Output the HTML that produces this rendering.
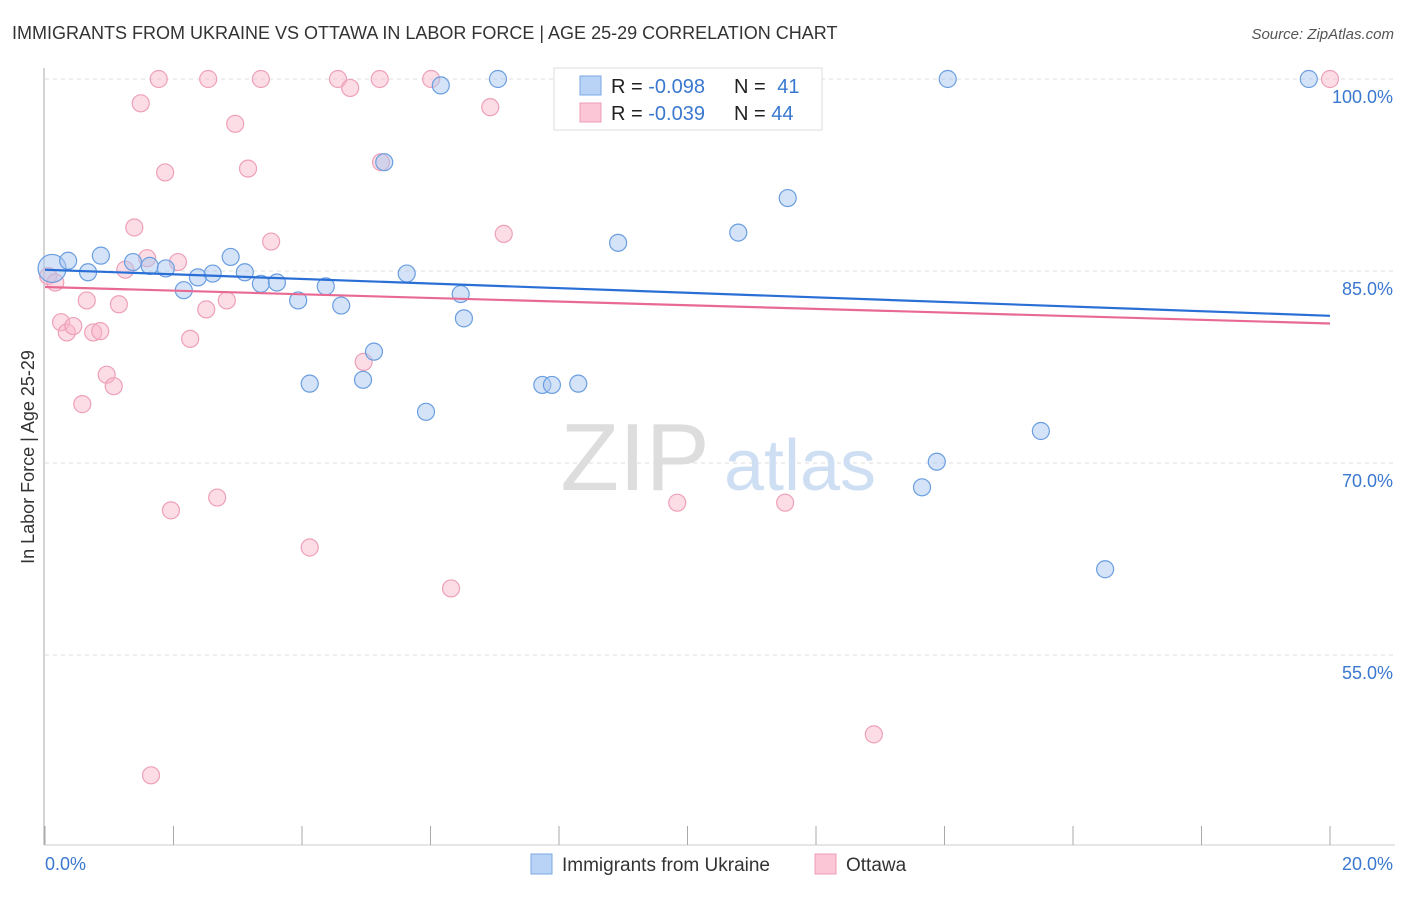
<!DOCTYPE html>
<html><head><meta charset="utf-8">
<style>
body{margin:0;background:#fff;font-family:"Liberation Sans",sans-serif;}
svg text{font-family:"Liberation Sans",sans-serif;}
</style></head>
<body>
<svg id="chart" width="1406" height="892" xmlns="http://www.w3.org/2000/svg">
<text x="12" y="39" font-size="18" fill="#333">IMMIGRANTS FROM UKRAINE VS OTTAWA IN LABOR FORCE | AGE 25-29 CORRELATION CHART</text>
<text x="1394" y="39" font-size="15" fill="#555" font-style="italic" text-anchor="end">Source: ZipAtlas.com</text>
<g id="grid"></g>
<g>
<text x="635" y="490" font-size="96" fill="#ddd" font-family="Liberation Serif" text-anchor="middle">ZIP</text>
<text x="800" y="490" font-size="72" fill="#cfdff3" text-anchor="middle">atlas</text>
</g>
<g id="axes"></g>
<g id="points"></g>
<g id="trends"></g>
<g>
<rect x="554" y="68" width="268" height="62" fill="#fff" stroke="#ddd"/>
<rect x="580" y="76" width="21" height="19" fill="#b8d3f5" stroke="#7aa9e6"/>
<rect x="580" y="103" width="21" height="19" fill="#fbc6d6" stroke="#ee9cb5"/>
<text x="611" y="93" font-size="20" fill="#222">R = <tspan fill="#3a78d0">-0.098</tspan></text>
<text x="734" y="93" font-size="20" fill="#222">N = <tspan fill="#3a78d0" dx="6">41</tspan></text>
<text x="611" y="120" font-size="20" fill="#222">R = <tspan fill="#3a78d0">-0.039</tspan></text>
<text x="734" y="120" font-size="20" fill="#222">N = <tspan fill="#3a78d0">44</tspan></text>
</g>
<g>
<rect x="531" y="854" width="21" height="20" fill="#b8d3f5" stroke="#7aa9e6"/>
<text x="562" y="871" font-size="19" fill="#333">Immigrants from Ukraine</text>
<rect x="815" y="854" width="21" height="20" fill="#fbc6d6" stroke="#ee9cb5"/>
<text x="846" y="871" font-size="19" fill="#333">Ottawa</text>
</g>
<text transform="translate(34,457) rotate(-90)" font-size="18" fill="#333" text-anchor="middle">In Labor Force | Age 25-29</text>
</svg>
<script>
const blueX=[0.11,0.36,0.67,0.87,1.37,1.63,1.88,2.16,2.38,2.61,2.89,3.11,3.36,3.61,3.94,4.12,4.37,4.61,4.95,5.12,5.28,5.63,5.93,6.16,6.47,6.52,7.05,7.74,7.89,8.30,8.92,10.94,10.79,11.56,13.65,13.88,14.05,15.50,16.50,19.67];
const blueY=[85.2,85.8,84.9,86.2,85.7,85.4,85.2,83.5,84.5,84.8,86.1,84.9,84.0,84.1,82.7,76.2,83.8,82.3,76.5,78.7,93.5,84.8,74.0,99.5,83.2,81.3,100,76.1,76.1,76.2,87.2,100,88.0,90.7,68.1,70.1,100,72.5,61.7,100];
const pinkX=[0.05,0.16,0.25,0.34,0.44,0.58,0.65,0.75,0.86,0.96,1.07,1.15,1.25,1.39,1.49,1.59,1.65,1.77,1.87,1.96,2.07,2.26,2.51,2.54,2.68,2.83,2.96,3.16,3.36,3.52,4.12,4.56,4.75,4.96,5.21,5.23,6.01,6.32,6.93,7.14,9.84,11.52,12.90,20.0];
const pinkY=[84.6,84.1,81.0,80.2,80.7,74.6,82.7,80.2,80.3,76.9,76.0,82.4,85.1,88.4,98.1,86.0,45.6,100,92.7,66.3,85.7,79.7,82.0,100,67.3,82.7,96.5,93.0,100,87.3,63.4,100,99.3,77.9,100,93.5,100,60.2,97.8,87.9,66.9,66.9,48.8,100];
const blueTrend=[85.1,81.5];
const pinkTrend=[83.75,80.9];
const yTicks=[100,85,70,55];
const yTickLabels=["100.0%","85.0%","70.0%","55.0%"];
const xTickVals=[0,2,4,6,8,10,12,14,16,18,20];
const xEndLabels=["0.0%","20.0%"];
const NS="http://www.w3.org/2000/svg";
const X=v=>45+v/20*1285;
const Y=v=>79+(100-v)*12.8;
function mk(tag,attrs,parent){const e=document.createElementNS(NS,tag);for(const k in attrs)e.setAttribute(k,attrs[k]);parent.appendChild(e);return e;}
const grid=document.getElementById('grid'),axes=document.getElementById('axes'),pts=document.getElementById('points'),tr=document.getElementById('trends');
yTicks.forEach((t,i)=>{
  const l=mk('line',{x1:45,x2:1395,y1:Y(t),y2:Y(t),stroke:'#ddd','stroke-dasharray':'4,4'},grid);
  
  
  const tx=mk('text',{x:1393,y:Y(t)+24,'font-size':18,fill:'#3a78d0','text-anchor':'end'},axes);
  tx.textContent=yTickLabels[i];
  
  
});
mk('line',{x1:44,x2:44,y1:68,y2:845,stroke:'#aaa'},axes);
mk('line',{x1:44,x2:1395,y1:845,y2:845,stroke:'#ccc'},axes);
xTickVals.forEach(v=>{
  const t=mk('line',{x1:X(v),x2:X(v),y1:826,y2:845,stroke:'#aaa'},axes);
  
  
});
const xl0=mk('text',{x:45,y:870,'font-size':18,fill:'#3a78d0'},axes);xl0.textContent=xEndLabels[0];


const xl1=mk('text',{x:1393,y:870,'font-size':18,fill:'#3a78d0','text-anchor':'end'},axes);xl1.textContent=xEndLabels[1];


pinkX.forEach((x,i)=>{
  const c=mk('circle',{cx:X(x),cy:Y(pinkY[i]),r:8.5,fill:'rgba(248,180,200,0.45)',stroke:'#eea0b8','stroke-width':1.2},pts);
  
  
});
blueX.forEach((x,i)=>{
  const c=mk('circle',{cx:X(x),cy:Y(blueY[i]),r:i==0?14:8.5,fill:'rgba(170,200,240,0.5)',stroke:'#6a9ee0','stroke-width':1.2},pts);
  
  
});
const bl=mk('line',{x1:X(0),x2:X(20),y1:Y(blueTrend[0]),y2:Y(blueTrend[1]),stroke:'#2a6fd6','stroke-width':2.2},tr);


const pl=mk('line',{x1:X(0),x2:X(20),y1:Y(pinkTrend[0]),y2:Y(pinkTrend[1]),stroke:'#e86a93','stroke-width':2.2},tr);


</script>
</body></html>
